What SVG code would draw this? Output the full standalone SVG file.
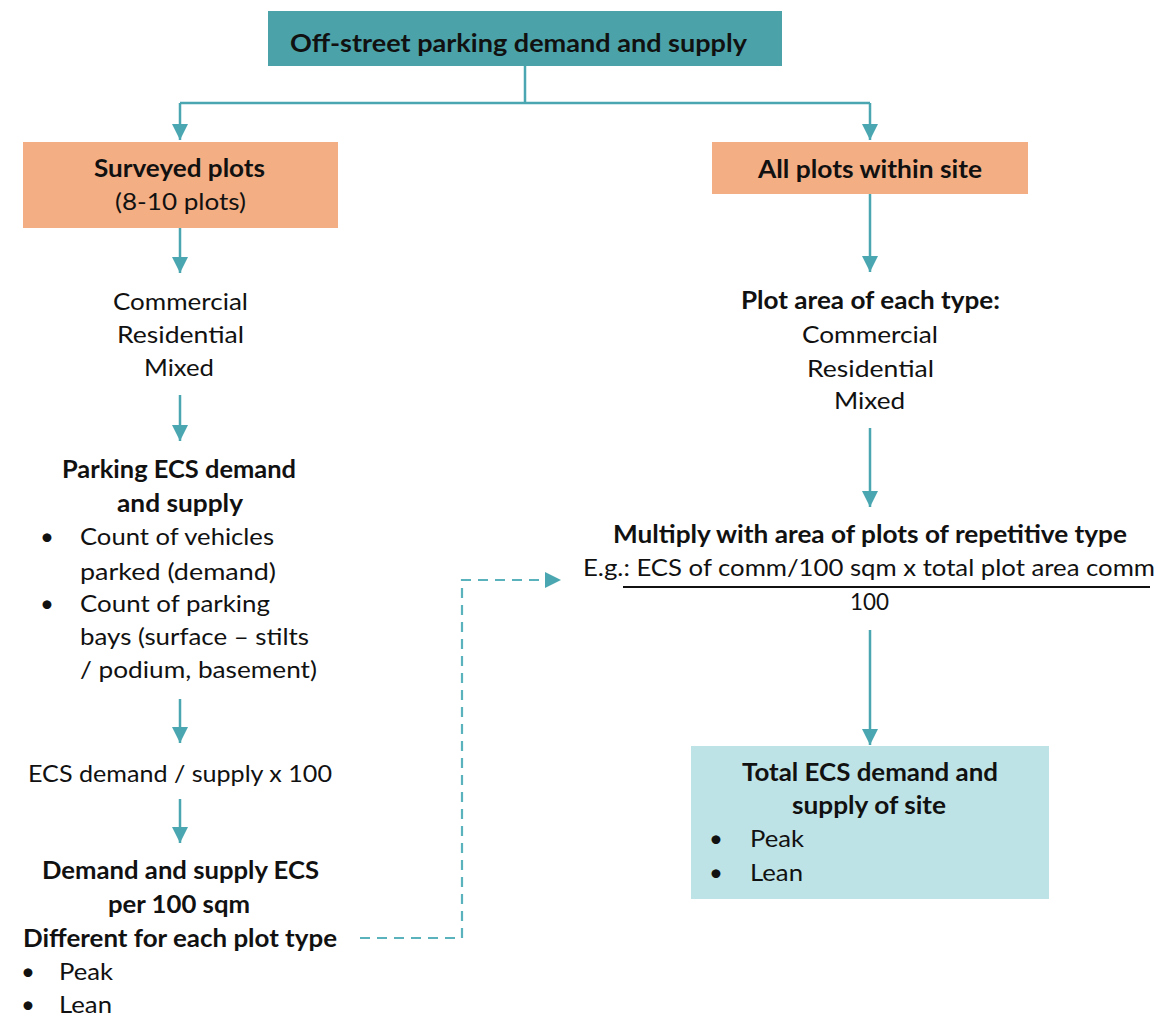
<svg xmlns="http://www.w3.org/2000/svg" width="1162" height="1019" viewBox="0 0 1162 1019">
<style>
  text { font-family: Lato, "Liberation Sans", sans-serif; font-size: 24px; fill: #111; }
  .b { font-weight: bold; }
  .t { font-size: 25px; }
  .ln { fill: none; stroke: #4aa7b1; stroke-width: 2.5; }
  .dash { fill: none; stroke: #5ab3bc; stroke-width: 2.2; stroke-dasharray: 10 7; }
</style>
<defs>
  <marker id="ah" markerUnits="userSpaceOnUse" markerWidth="17" markerHeight="16" refX="16" refY="8" orient="auto">
    <path d="M0,0 L16,8 L0,16 Z" fill="#4aa7b1"/>
  </marker>
</defs>
<rect width="1162" height="1019" fill="#ffffff"/>

<g id="connectors">
  <polyline class="ln" points="525,66 525,103"/>
  <polyline class="ln" points="180,103 870,103"/>
  <line class="ln" x1="180" y1="103" x2="180" y2="140" marker-end="url(#ah)"/>
  <line class="ln" x1="870" y1="103" x2="870" y2="140" marker-end="url(#ah)"/>
  <line class="ln" x1="180" y1="228" x2="180" y2="273" marker-end="url(#ah)"/>
  <line class="ln" x1="180" y1="395" x2="180" y2="441" marker-end="url(#ah)"/>
  <line class="ln" x1="180" y1="699" x2="180" y2="743" marker-end="url(#ah)"/>
  <line class="ln" x1="180" y1="799" x2="180" y2="843" marker-end="url(#ah)"/>
  <line class="ln" x1="870" y1="194" x2="870" y2="272" marker-end="url(#ah)"/>
  <line class="ln" x1="870" y1="428" x2="870" y2="507" marker-end="url(#ah)"/>
  <line class="ln" x1="870" y1="630" x2="870" y2="745" marker-end="url(#ah)"/>
  <polyline class="dash" points="360,938 462,938 462,580 561,580" marker-end="url(#ah)"/>
</g>

<g id="title">
  <rect x="268" y="11" width="514" height="55" fill="#4ba3a9"/>
  <text class="b t" x="290" y="52" textLength="457" lengthAdjust="spacingAndGlyphs">Off-street parking demand and supply</text>
</g>

<g id="surveyed">
  <rect x="23" y="142" width="315" height="86" fill="#f4ae83"/>
  <text class="b" x="94" y="177" textLength="171" lengthAdjust="spacingAndGlyphs">Surveyed plots</text>
  <text x="115" y="210" textLength="131" lengthAdjust="spacingAndGlyphs">(8-10 plots)</text>
</g>

<g id="types-left">
  <text x="113" y="310" textLength="135" lengthAdjust="spacingAndGlyphs">Commercial</text>
  <text x="117" y="343" textLength="127" lengthAdjust="spacingAndGlyphs">Residential</text>
  <text x="144" y="376" textLength="70" lengthAdjust="spacingAndGlyphs">Mixed</text>
</g>

<g id="parking-ecs">
  <text class="b" x="62" y="478" textLength="234" lengthAdjust="spacingAndGlyphs">Parking ECS demand</text>
  <text class="b" x="117" y="512" textLength="126" lengthAdjust="spacingAndGlyphs">and supply</text>
  <text x="40" y="545">•</text>
  <text x="80" y="545" textLength="194" lengthAdjust="spacingAndGlyphs">Count of vehicles</text>
  <text x="80" y="580" textLength="196" lengthAdjust="spacingAndGlyphs">parked (demand)</text>
  <text x="40" y="612">•</text>
  <text x="80" y="612" textLength="190" lengthAdjust="spacingAndGlyphs">Count of parking</text>
  <text x="80" y="645" textLength="229" lengthAdjust="spacingAndGlyphs">bays (surface – stilts</text>
  <text x="80" y="678" textLength="237" lengthAdjust="spacingAndGlyphs">/ podium, basement)</text>
</g>

<g id="ecs-formula">
  <text x="28" y="782" textLength="304" lengthAdjust="spacingAndGlyphs">ECS demand / supply x 100</text>
</g>

<g id="per-100">
  <text class="b" x="42" y="879" textLength="277" lengthAdjust="spacingAndGlyphs">Demand and supply ECS</text>
  <text class="b" x="108" y="913" textLength="142" lengthAdjust="spacingAndGlyphs">per 100 sqm</text>
  <text class="b" x="23" y="947" textLength="314" lengthAdjust="spacingAndGlyphs">Different for each plot type</text>
  <text x="21" y="980">•</text>
  <text x="59" y="980" textLength="54" lengthAdjust="spacingAndGlyphs">Peak</text>
  <text x="21" y="1013">•</text>
  <text x="59" y="1013" textLength="53" lengthAdjust="spacingAndGlyphs">Lean</text>
</g>

<g id="all-plots">
  <rect x="712" y="142" width="316" height="52" fill="#f4ae83"/>
  <text class="b" x="758" y="178" textLength="224" lengthAdjust="spacingAndGlyphs">All plots within site</text>
</g>

<g id="plot-area">
  <text class="b" x="741" y="309" textLength="259" lengthAdjust="spacingAndGlyphs">Plot area of each type:</text>
  <text x="802" y="343" textLength="136" lengthAdjust="spacingAndGlyphs">Commercial</text>
  <text x="807" y="377" textLength="127" lengthAdjust="spacingAndGlyphs">Residential</text>
  <text x="834" y="409" textLength="71" lengthAdjust="spacingAndGlyphs">Mixed</text>
</g>

<g id="multiply">
  <text class="b" x="613" y="543" textLength="514" lengthAdjust="spacingAndGlyphs">Multiply with area of plots of repetitive type</text>
  <text x="583" y="576" textLength="572" lengthAdjust="spacingAndGlyphs">E.g.: ECS of comm/100 sqm x total plot area comm</text>
  <line x1="623" y1="587" x2="1150" y2="587" stroke="#111" stroke-width="2"/>
  <text x="850" y="610" textLength="39" lengthAdjust="spacingAndGlyphs">100</text>
</g>

<g id="total">
  <rect x="691" y="746" width="358" height="153" fill="#bee3e6"/>
  <text class="b" x="742" y="781" textLength="256" lengthAdjust="spacingAndGlyphs">Total ECS demand and</text>
  <text class="b" x="792" y="814" textLength="154" lengthAdjust="spacingAndGlyphs">supply of site</text>
  <text x="709" y="847">•</text>
  <text x="750" y="847" textLength="54" lengthAdjust="spacingAndGlyphs">Peak</text>
  <text x="709" y="881">•</text>
  <text x="750" y="881" textLength="53" lengthAdjust="spacingAndGlyphs">Lean</text>
</g>
</svg>
